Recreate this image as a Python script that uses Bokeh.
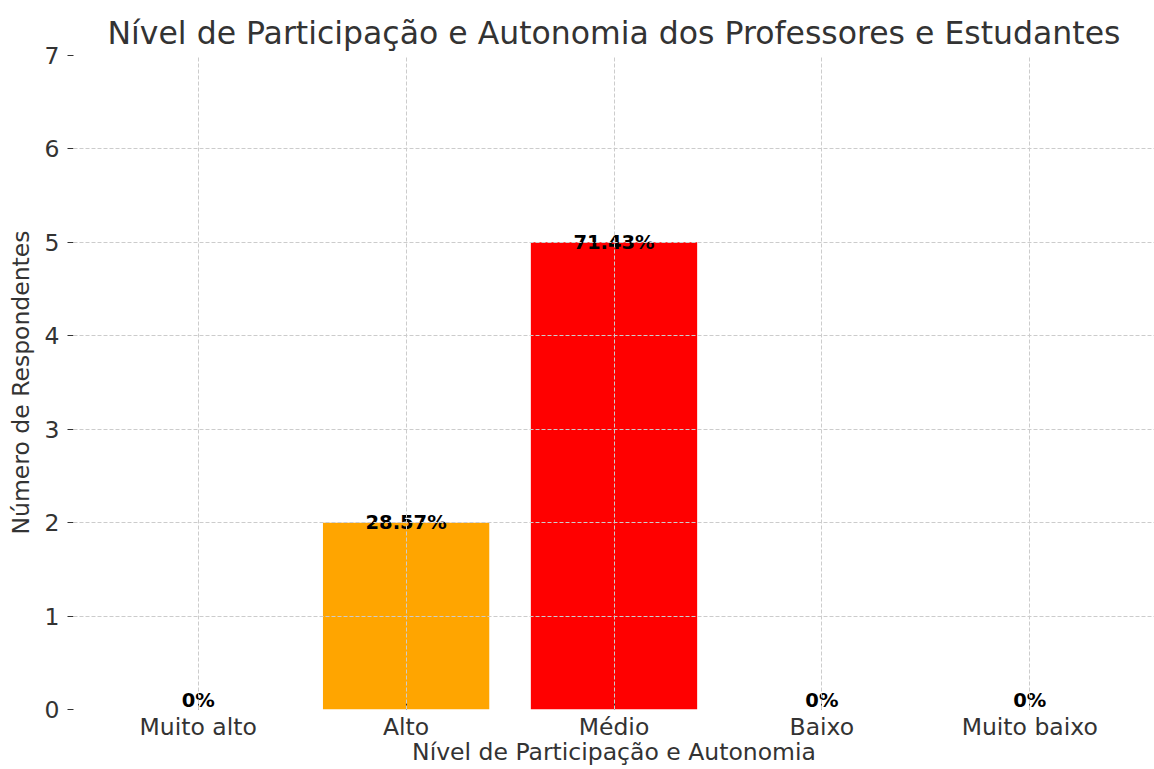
from bokeh.plotting import figure
from bokeh.models import Range1d, FixedTicker, ColumnDataSource
from bokeh.embed import file_html
from bokeh.resources import INLINE

title = "Nível de Participação e Autonomia dos Professores e Estudantes"
x_label = "Nível de Participação e Autonomia"
y_label = "Número de Respondentes"
categories = ["Muito alto", "Alto", "Médio", "Baixo", "Muito baixo"]
counts = [0, 2, 5, 0, 0]
colors = ["#008000", "#FFA500", "#FF0000", "#8B0000", "#800000"]
y_ticks = [0, 1, 2, 3, 4, 5, 6, 7]

FONT = "DejaVu Sans"
TXT = "#333333"

total = sum(counts)
idx = list(range(len(categories)))
pct_labels = [f"{c / total * 100:.2f}%" if c > 0 else "0%" for c in counts]
label_y = [c if c > 0 else 0.1 for c in counts]

src = ColumnDataSource(dict(x=idx, top=counts, color=colors, lab=pct_labels, ly=label_y))

p = figure(width=1154, height=769, output_backend="svg", toolbar_location=None,
           x_range=Range1d(-0.6, 4.6), y_range=Range1d(0, 7),
           min_border_left=73, min_border_right=0, min_border_top=55, min_border_bottom=60)

p.vbar(x="x", top="top", bottom=0, width=0.8, fill_color="color", line_color=None, source=src)
p.text(x="x", y="ly", text="lab", source=src, text_align="center", text_baseline="alphabetic",
       text_font={"value": FONT}, text_font_size={"value": "19.5px"},
       text_font_style="bold", text_color="black")

p.title.text = title
p.title.text_font = FONT
p.title.text_font_size = "31.5px"
p.title.text_font_style = "normal"
p.title.text_color = TXT
p.title.align = "center"
p.title.standoff = 9

p.outline_line_color = None
p.background_fill_color = "white"
p.border_fill_color = "white"

# x axis
xa = p.xaxis[0]
xa.ticker = FixedTicker(ticks=idx)
xa.major_label_overrides = {i: c for i, c in zip(idx, categories)}
xa.major_label_text_font = FONT
xa.major_label_text_font_size = "23.5px"
xa.major_label_text_color = TXT
xa.major_label_standoff = 3
xa.axis_line_color = None
xa.major_tick_in = 6
xa.major_tick_out = 0
xa.major_tick_line_color = TXT
xa.minor_tick_line_color = None
xa.axis_label = x_label
xa.axis_label_text_font = FONT
xa.axis_label_text_font_size = "23.5px"
xa.axis_label_text_font_style = "normal"
xa.axis_label_text_color = TXT
xa.axis_label_standoff = -6

# y axis
ya = p.yaxis[0]
ya.ticker = FixedTicker(ticks=y_ticks)
ya.major_label_text_font = FONT
ya.major_label_text_font_size = "23.5px"
ya.major_label_text_color = TXT
ya.major_label_standoff = 8
ya.axis_line_color = None
ya.major_tick_in = 0
ya.major_tick_out = 6
ya.major_tick_line_color = TXT
ya.minor_tick_line_color = None
ya.axis_label = y_label
ya.axis_label_text_font = FONT
ya.axis_label_text_font_size = "23.5px"
ya.axis_label_text_font_style = "normal"
ya.axis_label_text_color = TXT
ya.axis_label_standoff = 7

for g in (p.xgrid[0], p.ygrid[0]):
    g.grid_line_color = "#cccccc"
    g.grid_line_dash = "4 2"
    g.grid_line_width = 1
    g.level = "guide"
p.xgrid[0].ticker = FixedTicker(ticks=idx)
p.ygrid[0].ticker = FixedTicker(ticks=y_ticks)

open("out.html", "w").write(file_html(p, INLINE))
